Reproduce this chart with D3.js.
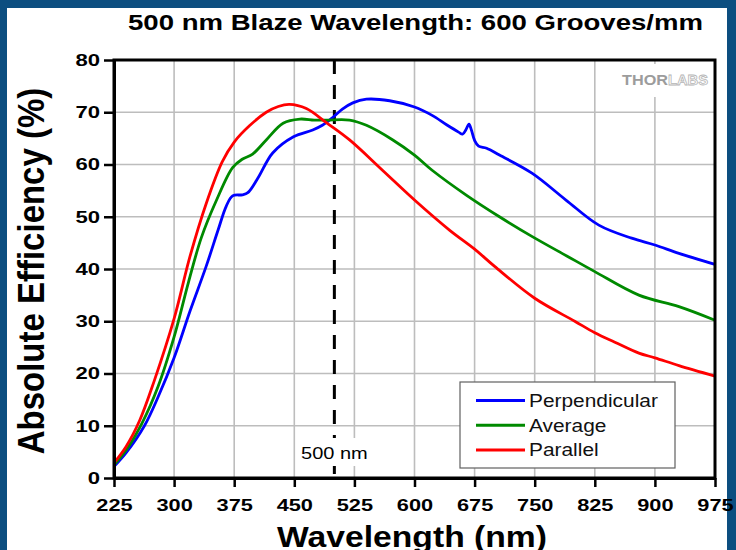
<!DOCTYPE html>
<html>
<head>
<meta charset="utf-8">
<script src="https://cdn.jsdelivr.net/npm/d3@7"></script>
<style>
  body { margin: 0; background: #fff; }
  svg { display: block; font-family: "Liberation Sans", Arial, sans-serif; }
</style>
</head>
<body>
<div id="chart"></div>
<script>
// tick values
const waveTicks = [225, 300, 375, 450, 525, 600, 675, 750, 825, 900, 975];
const effTicks = [0, 10, 20, 30, 40, 50, 60, 70, 80];
const blazeWave = 500;

// [wavelength nm, absolute efficiency %]
const perpendicular = [
  [225, 2.2], [240, 4.8], [263, 10], [280, 15.5], [300, 23], [320, 32], [340, 40.5],
  [355, 47.5], [365, 52], [373, 54], [385, 54.2], [392, 54.6], [405, 57.5],
  [423, 62.2], [449, 65.3], [473, 66.6], [485, 67.5], [498, 69], [510, 70.6],
  [523, 71.8], [540, 72.5], [569, 72.2], [600, 71], [622, 69.4], [640, 67.6],
  [655, 66.2], [660, 65.8], [664, 66.6], [668, 67.7], [671, 66.6], [675, 64.6],
  [680, 63.5], [690, 63.1], [706, 61.8], [747, 58.3], [789, 53.2], [830, 48.4],
  [871, 45.9], [900, 44.6], [930, 43], [975, 40.9]
];
const average = [
  [225, 2.5], [240, 5.3], [260, 10.5], [280, 17.5], [300, 27], [318, 37.5], [334, 46],
  [353, 53.2], [373, 59.4], [385, 61], [398, 62], [415, 64.7], [436, 67.9],
  [457, 68.7], [475, 68.5], [490, 68.5], [519, 68.5], [540, 67.5], [573, 64.7],
  [600, 61.8], [622, 58.9], [665, 54.1], [706, 50], [747, 46.2], [790, 42.5],
  [825, 39.5], [880, 35], [930, 32.8], [975, 30.2]
];
const parallel = [
  [225, 2.9], [240, 6], [257, 11], [275, 18.5], [300, 30.5], [320, 42.5],
  [340, 52.5], [360, 60.5], [375, 64.3], [394, 67.4], [415, 70], [430, 71.1],
  [444, 71.5], [465, 70.7], [490, 68], [519, 64.7], [560, 58.9],
  [600, 53.2], [644, 47.4], [675, 43.8], [700, 40.5], [750, 34.4], [800, 30],
  [825, 27.8], [850, 26], [880, 23.9], [900, 23], [930, 21.5], [975, 19.5]
];

const seriesNames = ["Perpendicular", "Average", "Parallel"];
const seriesData = [perpendicular, average, parallel];
const seriesColors = ["#0000ff", "#008a00", "#ff0000"];

const width = 736;
const height = 550;
const margin = { left: 114, right: 21, top: 60, bottom: 72 };

const svg = d3.select("#chart")
    .append("svg")
    .attr("width", width)
    .attr("height", height);

// blue frame around the picture
svg.append("rect").attr("width", width).attr("height", height).attr("fill", "#0c4e80");
svg.append("rect").attr("x", 7).attr("y", 8).attr("width", 720).attr("height", height - 8).attr("fill", "#fff");

const x = d3.scaleLinear()
    .domain([225, 975])
    .range([margin.left, width - margin.right]);

const y = d3.scaleLinear()
    .domain([0, 80])
    .range([height - margin.bottom, margin.top]);

const x0 = x.range()[0], x1 = x.range()[1];
const y0 = y.range()[0], y1 = y.range()[1];

// grid
const grid = svg.append("g")
    .attr("stroke", "#bdbdbd")
    .attr("stroke-width", 1.6);

grid.selectAll("line.v")
    .data(waveTicks.slice(1, -1))
    .enter()
    .append("line")
    .attr("class", "v")
    .attr("x1", d => x(d)).attr("x2", d => x(d))
    .attr("y1", y1).attr("y2", y0);

grid.selectAll("line.h")
    .data(effTicks.slice(1, -1))
    .enter()
    .append("line")
    .attr("class", "h")
    .attr("x1", x0).attr("x2", x1)
    .attr("y1", d => y(d)).attr("y2", d => y(d));

// blaze wavelength marker
svg.append("line")
    .attr("x1", x(blazeWave)).attr("x2", x(blazeWave))
    .attr("y1", y1).attr("y2", y0)
    .attr("stroke", "#000")
    .attr("stroke-width", 3)
    .attr("stroke-dasharray", "14,11");

svg.append("rect")
    .attr("x", x(blazeWave) - 37).attr("y", 438)
    .attr("width", 74).attr("height", 28)
    .attr("fill", "#fff");

svg.append("text")
    .attr("transform", `translate(${x(blazeWave)},459) scale(1.25,1)`)
    .attr("text-anchor", "middle")
    .style("font-size", "16px")
    .text("500 nm");

// logo
svg.append("rect")
    .attr("x", 616).attr("y", 64).attr("width", 96).attr("height", 33)
    .attr("fill", "#fff");
svg.append("text")
    .attr("x", 622).attr("y", 85)
    .attr("textLength", 46).attr("lengthAdjust", "spacingAndGlyphs")
    .style("font-size", "15px").style("font-weight", "bold")
    .attr("fill", "#9c9c9c")
    .text("THOR");
svg.append("text")
    .attr("x", 668).attr("y", 85)
    .attr("textLength", 40).attr("lengthAdjust", "spacingAndGlyphs")
    .style("font-size", "15px").style("font-weight", "bold")
    .attr("fill", "#fff").attr("stroke", "#b4b4b4").attr("stroke-width", 0.8)
    .text("LABS");

// curves
const line = d3.line()
    .x(d => x(d[0]))
    .y(d => y(d[1]))
    .curve(d3.curveCatmullRom.alpha(0.5));

svg.append("g")
    .selectAll("path")
    .data(seriesData)
    .enter()
    .append("path")
    .attr("d", line)
    .attr("fill", "none")
    .attr("stroke", (d, i) => seriesColors[i])
    .attr("stroke-width", 2.8)
    .attr("stroke-linejoin", "round");

// axes
const xAxis = svg.append("g")
    .attr("transform", `translate(0,${y0})`)
    .call(d3.axisBottom(x).tickValues(waveTicks).tickSize(9).tickSizeOuter(0));

const yAxis = svg.append("g")
    .attr("transform", `translate(${x0},0)`)
    .call(d3.axisLeft(y).tickValues(effTicks).tickSize(10).tickPadding(4).tickSizeOuter(0));

[xAxis, yAxis].forEach(g => {
    g.select(".domain").attr("stroke", "#000").attr("stroke-width", 3);
    g.selectAll(".tick line").attr("stroke", "#000").attr("stroke-width", 2.5);
    g.selectAll(".tick text")
        .attr("fill", "#000")
        .style("font-size", "17px")
        .style("font-weight", "bold")
        .style("font-family", "'Liberation Sans', Arial, sans-serif");
});

xAxis.selectAll(".tick text")
    .attr("y", 33).attr("dy", 0)
    .attr("transform", "scale(1.28,1)");

yAxis.selectAll(".tick text")
    .attr("x", -14 / 1.3)
    .attr("transform", "scale(1.3,1)");

// plot frame
svg.append("rect")
    .attr("x", x0).attr("y", y1)
    .attr("width", x1 - x0).attr("height", y0 - y1)
    .attr("fill", "none")
    .attr("stroke", "#000")
    .attr("stroke-width", 3);

// legend
const legend = svg.append("g");
legend.append("rect")
    .attr("x", 460).attr("y", 382)
    .attr("width", 215).attr("height", 86)
    .attr("fill", "#fff")
    .attr("stroke", "#606060")
    .attr("stroke-width", 1.2);

const items = legend.selectAll("g.item")
    .data(seriesNames)
    .enter()
    .append("g")
    .attr("class", "item")
    .attr("transform", (d, i) => `translate(476,${400.5 + i * 24.7})`);

items.append("line")
    .attr("x1", 0).attr("x2", 49)
    .attr("stroke", (d, i) => seriesColors[i])
    .attr("stroke-width", 3);

items.append("text")
    .attr("transform", "translate(53,6.5) scale(1.13,1)")
    .style("font-size", "18.5px")
    .attr("fill", "#111")
    .text(d => d);

// titles
svg.append("text")
    .attr("x", 128).attr("y", 30)
    .attr("textLength", 575).attr("lengthAdjust", "spacingAndGlyphs")
    .style("font-size", "21.5px")
    .style("font-weight", "bold")
    .text("500 nm Blaze Wavelength: 600 Grooves/mm");

svg.append("text")
    .attr("x", 277).attr("y", 547)
    .attr("textLength", 270).attr("lengthAdjust", "spacingAndGlyphs")
    .style("font-size", "30px")
    .style("font-weight", "bold")
    .text("Wavelength (nm)");

svg.append("text")
    .attr("transform", `translate(44,${(y0 + y1) / 2 + 2}) scale(1.12,1) rotate(-90)`)
    .attr("text-anchor", "middle")
    .style("font-size", "33px")
    .style("font-weight", "bold")
    .text("Absolute Efficiency (%)");
</script>
</body>
</html>
